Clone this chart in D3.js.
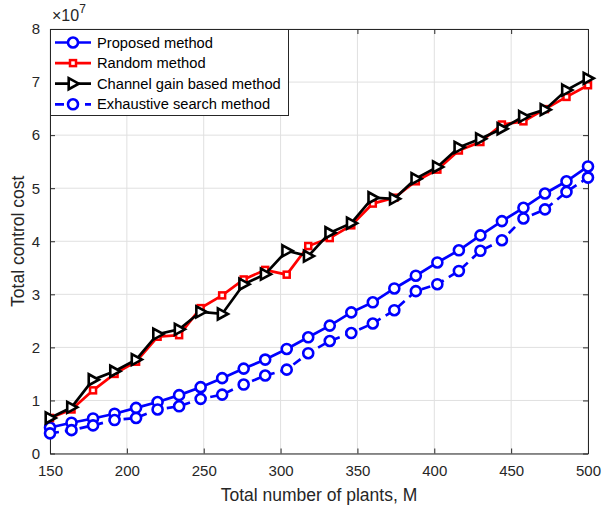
<!DOCTYPE html>
<html>
<head>
<meta charset="utf-8">
<script src="https://cdn.jsdelivr.net/npm/d3@7"></script>
<style>
	body { margin: 0; background: #fff; }
	svg { display: block; font-family: "Liberation Sans", Arial, Helvetica, sans-serif; }
</style>
</head>
<body>
<div id="chart"></div>
<script>
// number of plants M
var xValues = [150, 164, 178, 192, 206, 220, 234, 248, 262, 276, 290, 304, 318,
	332, 346, 360, 374, 388, 402, 416, 430, 444, 458, 472, 486, 500];

// total control cost, in units of 1e7
var proposed = [0.49, 0.58, 0.66, 0.75, 0.86, 0.97, 1.10, 1.25, 1.42, 1.60, 1.77, 1.97, 2.19,
	2.41, 2.66, 2.85, 3.11, 3.35, 3.60, 3.83, 4.11, 4.38, 4.63, 4.90, 5.13, 5.41];
var random = [0.67, 0.83, 1.19, 1.50, 1.73, 2.20, 2.23, 2.74, 2.98, 3.28, 3.46, 3.37, 3.91,
	4.06, 4.30, 4.71, 4.82, 5.13, 5.35, 5.71, 5.87, 6.20, 6.26, 6.49, 6.72, 6.94];
var channel = [0.67, 0.87, 1.39, 1.55, 1.77, 2.25, 2.34, 2.67, 2.63, 3.19, 3.38, 3.82, 3.72,
	4.16, 4.34, 4.82, 4.80, 5.18, 5.40, 5.77, 5.93, 6.12, 6.35, 6.48, 6.85, 7.07];
var exhaustive = [0.38, 0.44, 0.53, 0.63, 0.67, 0.83, 0.89, 1.03, 1.11, 1.30, 1.47, 1.58, 1.89,
	2.12, 2.27, 2.45, 2.70, 3.06, 3.19, 3.44, 3.82, 4.02, 4.43, 4.60, 4.93, 5.20];

var xTicks = [150, 200, 250, 300, 350, 400, 450, 500];
var yTicks = [0, 1, 2, 3, 4, 5, 6, 7, 8];

var seriesNames = ["Proposed method", "Random method", "Channel gain based method", "Exhaustive search method"];

var width = 603, height = 508;
var margin = { top: 29, right: 15, bottom: 54.5, left: 50 };
var iw = width - margin.left - margin.right;
var ih = height - margin.top - margin.bottom;
var axisColor = "#262626";

var svg = d3.select("#chart").append("svg").attr("width", width).attr("height", height);
var g = svg.append("g").attr("transform", "translate(" + margin.left + "," + margin.top + ")");

var x = d3.scaleLinear().domain([150, 500]).range([0, iw]);
var y = d3.scaleLinear().domain([0, 8]).range([ih, 0]);

// grid
g.append("g").selectAll("line").data(xTicks).enter().append("line")
	.attr("x1", d => x(d)).attr("x2", d => x(d)).attr("y1", 0).attr("y2", ih)
	.attr("stroke", "#e0e0e0").attr("stroke-width", 1);
g.append("g").selectAll("line").data(yTicks).enter().append("line")
	.attr("x1", 0).attr("x2", iw).attr("y1", d => y(d)).attr("y2", d => y(d))
	.attr("stroke", "#e0e0e0").attr("stroke-width", 1);

// axes (ticks inward, box on)
function styleAxis(sel) {
	sel.selectAll("path").attr("stroke", axisColor);
	sel.selectAll("line").attr("stroke", axisColor);
	sel.selectAll("text").attr("fill", "#262626").style("font-size", "15px");
}
var xAxis = g.append("g").attr("transform", "translate(0," + ih + ")")
	.call(d3.axisBottom(x).tickValues(xTicks).tickSizeInner(-5).tickSizeOuter(0).tickPadding(12));
styleAxis(xAxis);
var yAxis = g.append("g")
	.call(d3.axisLeft(y).tickValues(yTicks).tickSizeInner(-5).tickSizeOuter(0).tickPadding(10));
styleAxis(yAxis);
var xTop = g.append("g")
	.call(d3.axisTop(x).tickValues(xTicks).tickSizeInner(-5).tickSizeOuter(0).tickFormat(""));
styleAxis(xTop);
var yRight = g.append("g").attr("transform", "translate(" + iw + ",0)")
	.call(d3.axisRight(y).tickValues(yTicks).tickSizeInner(-5).tickSizeOuter(0).tickFormat(""));
styleAxis(yRight);

// exponent label
var expo = g.append("text").attr("x", 2).attr("y", -8).attr("fill", "#262626").style("font-size", "16px");
expo.append("tspan").text("\u00d710");
expo.append("tspan").attr("dy", -8).style("font-size", "12px").text("7");

// axis titles
svg.append("text")
	.attr("x", margin.left + iw / 2).attr("y", 501)
	.attr("text-anchor", "middle").attr("fill", "#262626").style("font-size", "17.5px")
	.text("Total number of plants, M");
svg.append("text")
	.attr("transform", "translate(24," + (margin.top + ih / 2) + ") rotate(-90)")
	.attr("text-anchor", "middle").attr("fill", "#262626").style("font-size", "17.5px")
	.text("Total control cost");

// series
var series = [
	{ name: seriesNames[0], values: proposed, color: "#0000ff", marker: "circle", dash: null },
	{ name: seriesNames[1], values: random, color: "#ff0000", marker: "square", dash: null },
	{ name: seriesNames[2], values: channel, color: "#000000", marker: "triangle", dash: null },
	{ name: seriesNames[3], values: exhaustive, color: "#0000ff", marker: "circle", dash: "9,6" }
];

var line = d3.line().x((d, i) => x(xValues[i])).y(d => y(d));

function drawMarker(sel, type, color) {
	if (type === "circle") {
		sel.append("circle").attr("r", 5).attr("fill", "#fff").attr("stroke", color).attr("stroke-width", 2.6);
	} else if (type === "square") {
		sel.append("rect").attr("x", -3).attr("y", -3).attr("width", 6).attr("height", 6)
			.attr("fill", "#fff").attr("stroke", color).attr("stroke-width", 2.5);
	} else {
		sel.append("path").attr("d", "M-4.3,-5.5L5.8,0L-4.3,5.5Z")
			.attr("fill", "#fff").attr("stroke", color).attr("stroke-width", 2.6).attr("stroke-linejoin", "miter");
	}
}

series.forEach(function (s) {
	var sg = g.append("g");
	sg.append("path").datum(s.values).attr("d", line)
		.attr("fill", "none").attr("stroke", s.color).attr("stroke-width", 2.7)
		.attr("stroke-dasharray", s.dash);
	sg.selectAll("g.m").data(s.values).enter().append("g").attr("class", "m")
		.attr("transform", (d, i) => "translate(" + x(xValues[i]) + "," + y(d) + ")")
		.each(function () { drawMarker(d3.select(this), s.marker, s.color); });
});

// legend
var lg = g.append("g");
lg.append("rect").attr("x", 0.5).attr("y", 0.5).attr("width", 238).attr("height", 86)
	.attr("fill", "#fff").attr("stroke", axisColor).attr("stroke-width", 1);
series.forEach(function (s, i) {
	var row = lg.append("g").attr("transform", "translate(0," + (13.5 + i * 20.6) + ")");
	row.append("line").attr("x1", 5).attr("x2", 41).attr("y1", 0).attr("y2", 0)
		.attr("stroke", s.color).attr("stroke-width", 2.7).attr("stroke-dasharray", s.dash);
	var m = row.append("g").attr("transform", "translate(23,0)");
	drawMarker(m, s.marker, s.color);
	row.append("text").attr("x", 47).attr("y", 0).attr("dy", "0.35em")
		.attr("fill", "#000").style("font-size", "14.7px").text(s.name);
});
</script>
</body>
</html>
